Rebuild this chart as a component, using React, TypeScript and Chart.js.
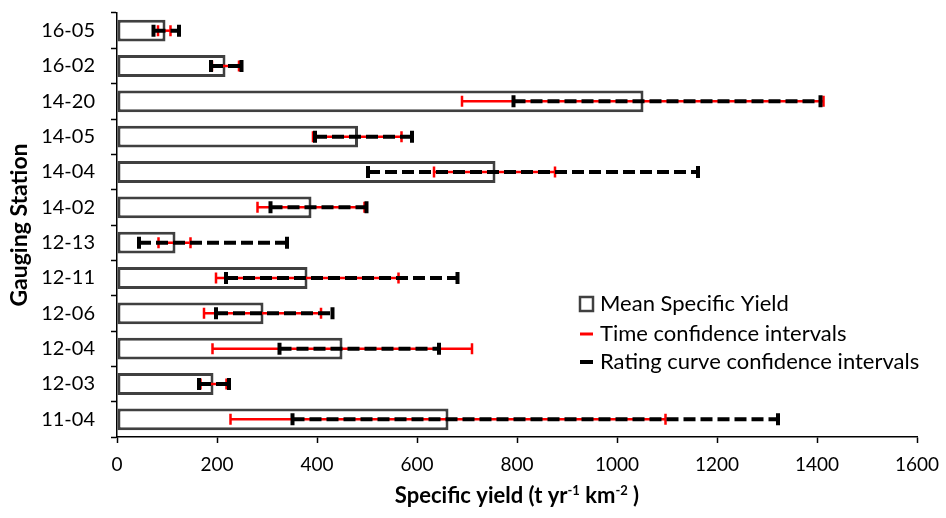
import { useEffect, useRef } from "react";
import { Chart, registerables } from "chart.js";

Chart.register(...registerables);

// Gauging stations, listed top to bottom
const stations = ["16-05", "16-02", "14-20", "14-05", "14-04", "14-02", "12-13", "12-11", "12-06", "12-04", "12-03", "11-04"];
// Mean specific yield (t yr-1 km-2)
const meanYield = [97, 217, 1053, 482, 757, 389, 117, 381, 293, 451, 193, 663];
// Time confidence intervals
const timeLow = [82, 190, 690, 392, 634, 281, 83, 198, 174, 191, 167, 227];
const timeHigh = [107, 244, 1413, 569, 876, 495, 147, 563, 408, 710, 219, 1097];
// Rating curve confidence intervals
const ratingLow = [73, 188, 793, 396, 502, 307, 44, 218, 198, 325, 164, 351];
const ratingHigh = [124, 249, 1407, 590, 1162, 499, 340, 681, 431, 644, 224, 1322];

const legendLabels = ["Mean Specific Yield", "Time confidence intervals", "Rating curve confidence intervals"];
const xTitleParts: [string, boolean][] = [
  ["Specific yield (t yr", false],
  ["-1", true],
  [" km", false],
  ["-2", true],
  [" )", false],
];

const FONT = "Lato, 'Open Sans', sans-serif";
const RED = "#ff0000";
const BLACK = "#000000";
const BAR_EDGE = "#404040";

function drawInterval(
  ctx: CanvasRenderingContext2D,
  x1: number,
  x2: number,
  y: number,
  color: string,
  width: number,
  dash: number[],
  capWidth: number,
  capHeight: number
) {
  ctx.strokeStyle = color;
  ctx.lineCap = "butt";
  ctx.lineWidth = width;
  ctx.setLineDash(dash);
  ctx.beginPath();
  ctx.moveTo(x1, y);
  ctx.lineTo(x2, y);
  ctx.stroke();
  ctx.setLineDash([]);
  ctx.lineWidth = capWidth;
  ctx.beginPath();
  ctx.moveTo(x1, y - capHeight / 2);
  ctx.lineTo(x1, y + capHeight / 2);
  ctx.moveTo(x2, y - capHeight / 2);
  ctx.lineTo(x2, y + capHeight / 2);
  ctx.stroke();
}

const errorBarsPlugin = {
  id: "errorBars",
  afterDatasetsDraw(chart: any) {
    const { ctx, scales } = chart;
    const xs = scales.x;
    const ys = scales.y;
    ctx.save();
    stations.forEach((_, i) => {
      const cy = ys.getPixelForValue(i);
      drawInterval(ctx, xs.getPixelForValue(timeLow[i]), xs.getPixelForValue(timeHigh[i]), cy, RED, 2.5, [], 2.5, 11);
      drawInterval(ctx, xs.getPixelForValue(ratingLow[i]), xs.getPixelForValue(ratingHigh[i]), cy, BLACK, 4, [12, 5], 4, 12);
    });
    ctx.restore();
  },
};

const legendPlugin = {
  id: "customLegend",
  afterDraw(chart: any) {
    const { ctx, chartArea } = chart;
    const x0 = chartArea.right - 337;
    const rows = [chartArea.top + 291, chartArea.top + 321, chartArea.top + 349];
    ctx.save();
    // box symbol
    ctx.fillStyle = "#ffffff";
    ctx.strokeStyle = BAR_EDGE;
    ctx.lineWidth = 2.5;
    ctx.fillRect(x0, rows[0] - 7, 13, 14);
    ctx.strokeRect(x0, rows[0] - 7, 13, 14);
    // line symbols
    ctx.lineWidth = 3;
    ctx.strokeStyle = RED;
    ctx.beginPath();
    ctx.moveTo(x0, rows[1]);
    ctx.lineTo(x0 + 13, rows[1]);
    ctx.stroke();
    ctx.lineWidth = 4;
    ctx.strokeStyle = BLACK;
    ctx.beginPath();
    ctx.moveTo(x0, rows[2]);
    ctx.lineTo(x0 + 13, rows[2]);
    ctx.stroke();
    // labels
    ctx.fillStyle = "#000";
    ctx.font = `22px ${FONT}`;
    ctx.textBaseline = "middle";
    ctx.textAlign = "left";
    legendLabels.forEach((t, i) => ctx.fillText(t, x0 + 20, rows[i]));
    ctx.restore();
  },
};

const xTitlePlugin = {
  id: "xTitle",
  afterDraw(chart: any) {
    const { ctx, chartArea } = chart;
    const main = `bold 22px ${FONT}`;
    const sup = `bold 13px ${FONT}`;
    ctx.save();
    let total = 0;
    xTitleParts.forEach(([t, s]) => {
      ctx.font = s ? sup : main;
      total += ctx.measureText(t).width;
    });
    let x = (chartArea.left + chartArea.right) / 2 - total / 2;
    const y = chartArea.bottom + 66;
    ctx.fillStyle = "#000";
    ctx.textBaseline = "alphabetic";
    ctx.textAlign = "left";
    xTitleParts.forEach(([t, s]) => {
      ctx.font = s ? sup : main;
      ctx.fillText(t, x, s ? y - 8 : y);
      x += ctx.measureText(t).width;
    });
    ctx.restore();
  },
};

// Let the layout padding alone decide where the plot area sits
function clearScalePadding(scale: any) {
  scale.paddingTop = 0;
  scale.paddingBottom = 0;
  scale.paddingLeft = 0;
  scale.paddingRight = 0;
}

export default function App() {
  const canvasRef = useRef<HTMLCanvasElement | null>(null);

  useEffect(() => {
    const canvas = canvasRef.current;
    if (!canvas) return;
    const chart = new Chart(canvas, {
      type: "bar",
      data: {
        labels: stations,
        datasets: [
          {
            label: legendLabels[0],
            data: meanYield,
            backgroundColor: "#ffffff",
            borderColor: BAR_EDGE,
            borderWidth: 3,
            borderSkipped: false,
            categoryPercentage: 0.62,
            barPercentage: 1,
          },
        ],
      },
      options: {
        indexAxis: "y",
        responsive: false,
        animation: false,
        devicePixelRatio: 1,
        layout: { padding: { top: 13, right: 29, left: 0, bottom: 0 } },
        plugins: {
          legend: { display: false },
          tooltip: { enabled: false },
        },
        scales: {
          x: {
            min: 0,
            max: 1600,
            ticks: {
              stepSize: 200,
              color: "#000",
              padding: 10,
              maxRotation: 0,
              font: { family: FONT, size: 19 },
              callback: (v: any) => String(v),
            },
            grid: { drawOnChartArea: false, tickLength: 6, tickColor: "#000", tickWidth: 1.5 },
            border: { display: true, color: "#000", width: 1.5 },
            afterFit(scale: any) {
              scale.height = 81;
              clearScalePadding(scale);
            },
          },
          y: {
            ticks: {
              color: "#000",
              padding: 16,
              font: { family: FONT, size: 20 },
            },
            grid: { drawOnChartArea: false, tickLength: 6, tickColor: "#000", tickWidth: 1.5, offset: true },
            border: { display: true, color: "#000", width: 1.5 },
            title: {
              display: true,
              text: "Gauging Station",
              color: "#000",
              font: { family: FONT, size: 23, weight: "bold" },
              padding: { top: 6, bottom: 0 },
            },
            afterFit(scale: any) {
              scale.width = 117;
              clearScalePadding(scale);
            },
          },
        },
      },
      plugins: [errorBarsPlugin, legendPlugin, xTitlePlugin],
    } as any);
    return () => chart.destroy();
  }, []);

  return (
    <div style={{ position: "absolute", left: 0, top: 0, width: 946, height: 518, background: "#fff" }}>
      <canvas ref={canvasRef} width={946} height={518} style={{ width: 946, height: 518 }} />
    </div>
  );
}
